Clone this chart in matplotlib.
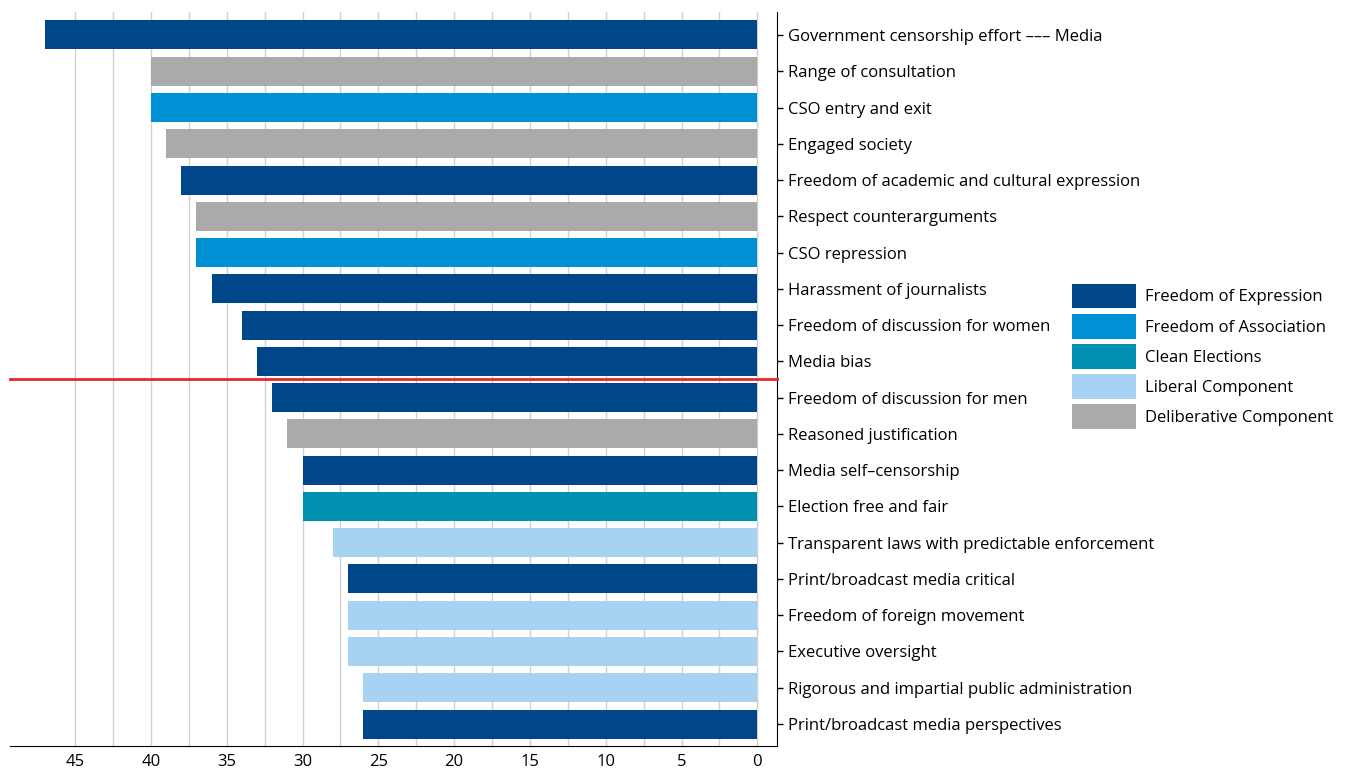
import matplotlib

matplotlib.use("Agg")
import matplotlib.pyplot as plt
from matplotlib.patches import Patch

plt.rcParams["font.family"] = ["Open Sans", "DejaVu Sans"]

INDICATORS = [
    "Government censorship effort \u2013\u2013\u2013 Media",
    "Range of consultation",
    "CSO entry and exit",
    "Engaged society",
    "Freedom of academic and cultural expression",
    "Respect counterarguments",
    "CSO repression",
    "Harassment of journalists",
    "Freedom of discussion for women",
    "Media bias",
    "Freedom of discussion for men",
    "Reasoned justification",
    "Media self\u2013censorship",
    "Election free and fair",
    "Transparent laws with predictable enforcement",
    "Print/broadcast media critical",
    "Freedom of foreign movement",
    "Executive oversight",
    "Rigorous and impartial public administration",
    "Print/broadcast media perspectives",
]
VALUES = [47, 40, 40, 39, 38, 37, 37, 36, 34, 33, 32, 31, 30, 30, 28, 27, 27, 27, 26, 26]
GROUPS = ["FoE", "Delib", "FoA", "Delib", "FoE", "Delib", "FoA", "FoE", "FoE", "FoE",
          "FoE", "Delib", "FoE", "Clean", "Liberal", "FoE", "Liberal", "Liberal",
          "Liberal", "FoE"]

GROUP_NAMES = {
    "FoE": "Freedom of Expression",
    "FoA": "Freedom of Association",
    "Clean": "Clean Elections",
    "Liberal": "Liberal Component",
    "Delib": "Deliberative Component",
}
COLORS = {
    "FoE": "#00468b",
    "FoA": "#0090d4",
    "Clean": "#0090b0",
    "Liberal": "#a8d2f2",
    "Delib": "#aaaaaa",
}

fig = plt.figure(figsize=(13.49, 7.73), dpi=100)
ax = fig.add_axes([0.0074, 0.0349, 0.5686, 0.9496])

y = list(range(len(INDICATORS)))
ax.barh(y, VALUES, height=0.8, color=[COLORS[g] for g in GROUPS], zorder=2)

ax.set_xlim(49.3, -1.3)
ax.set_ylim(19.607, -0.634)
ax.set_xticks(range(0, 50, 5))
ax.set_xticks([x + 2.5 for x in range(0, 45, 5)], minor=True)
ax.grid(axis="x", which="both", color="#d0d0d0", linewidth=1, zorder=0)
ax.tick_params(axis="x", which="both", length=0, labelsize=12, pad=6)

ax.set_yticks(y)
ax.set_yticklabels(INDICATORS, fontsize=12)
ax.yaxis.tick_right()
ax.tick_params(axis="y", length=4, width=1, pad=4, direction="out")

# threshold line between Media bias and Freedom of discussion for men
ax.axhline(9.5, color="#e8262b", linewidth=2, zorder=3, clip_on=False)

for side in ["top", "left"]:
    ax.spines[side].set_visible(False)
ax.spines["bottom"].set_color("black")
ax.spines["right"].set_color("black")

handles = [Patch(facecolor=COLORS[k], label=GROUP_NAMES[k]) for k in GROUP_NAMES]
fig.legend(handles=handles, loc="upper left", bbox_to_anchor=(0.7945, 0.633),
           frameon=False, fontsize=12, handlelength=3.85, handleheight=1.9,
           handletextpad=0.55, labelspacing=0.33, borderaxespad=0,
           borderpad=0)

fig.savefig("out.png", dpi=100)
